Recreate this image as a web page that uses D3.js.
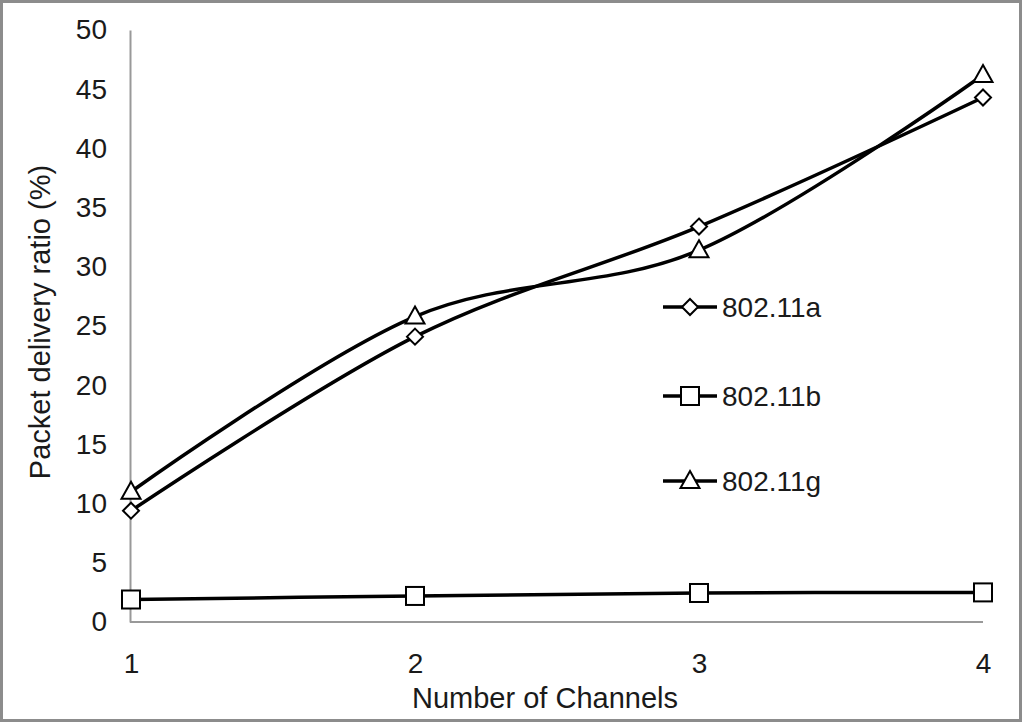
<!DOCTYPE html>
<html><head><meta charset="utf-8">
<script src="https://cdn.jsdelivr.net/npm/d3@7"></script>
<style>body{margin:0;background:#fff}svg{display:block}text{font-family:"Liberation Sans",Arial,sans-serif;fill:#1a1a1a}</style>
</head><body><svg id="c" width="1024" height="723"></svg>
<script>
const categories = [1, 2, 3, 4];
const yTicks = [0, 5, 10, 15, 20, 25, 30, 35, 40, 45, 50];
const seriesNames = ["802.11a", "802.11b", "802.11g"];
const valuesA = [9.4, 24.1, 33.4, 44.3];
const valuesB = [1.9, 2.2, 2.45, 2.5];
const valuesG = [11.0, 25.8, 31.4, 46.2];
const markers = ["diamond", "square", "triangle"];

const svg = d3.select("#c");
svg.append("rect").attr("x",1.5).attr("y",1.5).attr("width",1019).attr("height",719)
  .attr("fill","#fff").attr("stroke","#8c8c8c").attr("stroke-width",3);

const x = d3.scaleLinear().domain([1,4]).range([131,983]);
const y = d3.scaleLinear().domain([0,50]).range([622,30]);

const yAxis = svg.append("g").attr("transform","translate(130,0)")
  .call(d3.axisLeft(y).tickValues(yTicks).tickSize(0).tickPadding(23));
yAxis.select(".domain").attr("stroke","#999").attr("stroke-width",2);
yAxis.selectAll("text").attr("font-size",28).attr("fill","#1a1a1a").attr("font-family","Liberation Sans, Arial, sans-serif");

const xAxis = svg.append("g").attr("transform","translate(0,622)")
  .call(d3.axisBottom(x).tickValues(categories).tickFormat(d3.format("d")).tickSize(0).tickPadding(31));
xAxis.select(".domain").attr("stroke","#999").attr("stroke-width",2).attr("d","M130,0H983");
xAxis.selectAll("text").attr("font-size",28).attr("fill","#1a1a1a").attr("font-family","Liberation Sans, Arial, sans-serif");

svg.append("text").attr("transform","translate(50,322) rotate(-90)").attr("text-anchor","middle")
  .attr("font-size",29).text("Packet delivery ratio (%)");
svg.append("text").attr("x",545).attr("y",708).attr("text-anchor","middle")
  .attr("font-size",29).text("Number of Channels");

const line = d3.line().x((d,i)=>x(categories[i])).y(d=>y(d)).curve(d3.curveCatmullRom.alpha(0));

function drawMarker(g, type, cx, cy){
  if(type==="diamond"){
    g.append("path").attr("d",`M${cx},${cy-8}L${cx+8},${cy}L${cx},${cy+8}L${cx-8},${cy}Z`)
      .attr("fill","#fff").attr("stroke","#000").attr("stroke-width",2);
  } else if(type==="square"){
    g.append("rect").attr("x",cx-9).attr("y",cy-9).attr("width",18).attr("height",18)
      .attr("fill","#fff").attr("stroke","#000").attr("stroke-width",2);
  } else {
    g.append("path").attr("d",`M${cx},${cy-10}L${cx+9.5},${cy+7}L${cx-9.5},${cy+7}Z`)
      .attr("fill","#fff").attr("stroke","#000").attr("stroke-width",2);
  }
}

const allSeries = [valuesA, valuesB, valuesG];
allSeries.forEach((vals)=>{
  svg.append("path").attr("d",line(vals)).attr("fill","none").attr("stroke","#000").attr("stroke-width",3.5);
});
allSeries.forEach((vals,si)=>{
  const g = svg.append("g");
  vals.forEach((v,i)=>drawMarker(g, markers[si], x(categories[i]), y(v)));
});

const legendY = [307, 396, 481];
seriesNames.forEach((name,i)=>{
  const g = svg.append("g");
  g.append("line").attr("x1",663).attr("x2",717).attr("y1",legendY[i]).attr("y2",legendY[i])
    .attr("stroke","#000").attr("stroke-width",3.5);
  drawMarker(g, markers[i], 690, legendY[i]);
  g.append("text").attr("x",722).attr("y",legendY[i]+10).attr("font-size",28).text(name);
});
</script></body></html>
